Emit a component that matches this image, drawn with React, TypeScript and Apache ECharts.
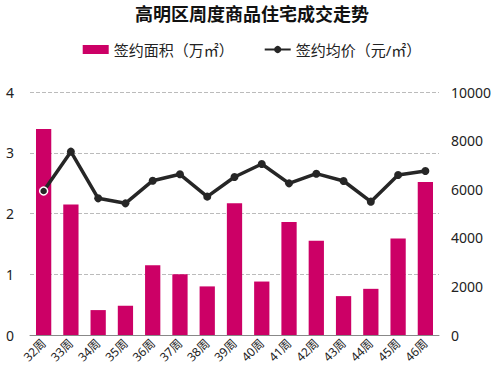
import React, { useEffect, useRef } from "react";
import * as echarts from "echarts";

const categories = ["32周", "33周", "34周", "35周", "36周", "37周", "38周", "39周", "40周", "41周", "42周", "43周", "44周", "45周", "46周"];
const areaValues = [3.39, 2.15, 0.41, 0.48, 1.15, 1.0, 0.8, 2.17, 0.88, 1.86, 1.55, 0.64, 0.76, 1.59, 2.52];
const priceValues = [5926, 7545, 5624, 5418, 6351, 6612, 5693, 6502, 7037, 6241, 6639, 6337, 5487, 6584, 6749];
const areaName = "签约面积（万㎡）";
const priceName = "签约均价（元/㎡）";
const titleText = "高明区周度商品住宅成交走势";

const FONT = "'Noto Sans', 'Noto Sans CJK SC', sans-serif";

export default function App() {
  const ref = useRef<HTMLDivElement>(null);
  useEffect(() => {
    if (!ref.current) return;
    const chart = echarts.init(ref.current, null, { renderer: "svg" });
    chart.setOption({
      animation: false,
      textStyle: { fontFamily: FONT },
      title: {
        text: titleText,
        left: "center",
        top: 0,
        textStyle: { fontSize: 18, fontWeight: "bold", color: "#111", fontFamily: FONT },
      },
      legend: {
        top: 37,
        left: "center",
        itemGap: 30,
        itemWidth: 26,
        itemHeight: 9,
        textStyle: { fontSize: 15, color: "#222", fontFamily: FONT },
        data: [
          { name: areaName, icon: "rect" },
          { name: priceName },
        ],
      },
      grid: { left: 30, right: 65, top: 92, bottom: 48, containLabel: false },
      xAxis: {
        type: "category",
        data: categories,
        axisLine: { lineStyle: { color: "#888" } },
        axisTick: { show: false },
        axisLabel: { rotate: 45, fontSize: 12, color: "#222", margin: 6, interval: 0 },
      },
      yAxis: [
        {
          type: "value",
          min: 0,
          max: 4,
          interval: 1,
          axisLabel: { fontSize: 14, color: "#222", margin: 16, formatter: (v: number) => String(v) },
          splitLine: { lineStyle: { color: "#bbb", type: "dashed" } },
          axisLine: { show: false },
          axisTick: { show: false },
        },
        {
          type: "value",
          min: 0,
          max: 10000,
          interval: 2000,
          position: "right",
          axisLabel: { fontSize: 14, color: "#222", margin: 12, formatter: (v: number) => String(v) },
          splitLine: { show: false },
          axisLine: { show: false },
          axisTick: { show: false },
        },
      ],
      series: [
        {
          name: areaName,
          type: "bar",
          data: areaValues,
          barWidth: "56%",
          itemStyle: { color: "#CC0066" },
        },
        {
          name: priceName,
          type: "line",
          yAxisIndex: 1,
          data: priceValues.map((v, i) =>
            i === 0 ? { value: v, itemStyle: { color: "#262626", borderColor: "#fff", borderWidth: 1.5 } } : v
          ),
          symbol: "circle",
          symbolSize: 8,
          lineStyle: { color: "#262626", width: 3.5 },
          itemStyle: { color: "#262626" },
        },
      ],
    });
    return () => chart.dispose();
  }, []);
  return (
    <div style={{ position: "absolute", left: 0, top: 0 }}>
      <div ref={ref} style={{ width: 504, height: 383 }} />
    </div>
  );
}
